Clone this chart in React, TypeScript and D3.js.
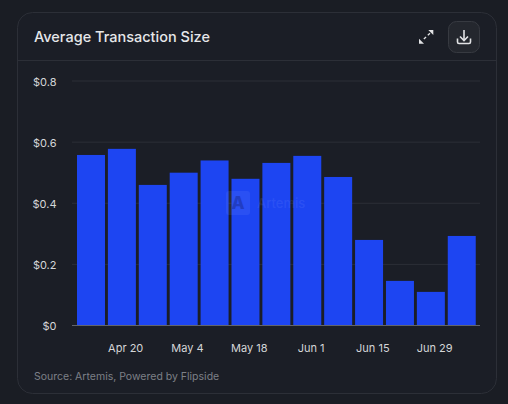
import React from "react";
import * as d3 from "d3";

const weeks = ["Apr 13","Apr 20","Apr 27","May 4","May 11","May 18","May 25","Jun 1","Jun 8","Jun 15","Jun 22","Jun 29","Jul 6"];
const avgSize = [0.558,0.578,0.46,0.5,0.54,0.48,0.532,0.555,0.486,0.28,0.146,0.11,0.293];
const yTicks = [0,0.2,0.4,0.6,0.8];
const yLabels = ["$0","$0.2","$0.4","$0.6","$0.8"];
const xTicks = ["Apr 20","May 4","May 18","Jun 1","Jun 15","Jun 29"];

const FONT = "Inter, 'Noto Sans', sans-serif";

export default function App() {
  const x = d3.scaleBand<string>().domain(weeks).range([75.55, 477.2]).paddingInner(0.094).paddingOuter(0.047);
  const y = d3.scaleLinear().domain([0, 0.8]).range([325.5, 81]);
  return (
    <svg width={508} height={404} style={{ position: "fixed", left: 0, top: 0, display: "block" }}>
      <rect width={508} height={404} fill="#1a1d24" />
      <rect x={17.5} y={12.5} width={479} height={381} rx={15} fill="#1b1e26" stroke="#2c2f37" />
      <line x1={18} x2={496} y1={60.5} y2={60.5} stroke="#2c2f37" />
      <text x={34} y={42} fill="#e6e7e9" fontFamily={FONT} fontSize={14.5} fontWeight={500}>Average Transaction Size</text>

      <g fill="#e2e3e5" stroke="none">
        <path d="M433.3 30 V35 L428.3 30 Z" />
        <path d="M419 43.8 V38.8 L424 43.8 Z" />
      </g>
      <path d="M430 33.3 L422.3 40.5" stroke="#e2e3e5" strokeWidth={1.3} strokeDasharray="3 2.4" fill="none" />
      <rect x={448.5} y={21.5} width={31} height={31} rx={8} fill="#24272e" stroke="#373a41" />
      <g stroke="#e2e3e5" strokeWidth={1.6} fill="none">
        <path d="M464 30 V40" />
        <path d="M460 36.5 L464 40.5 L468 36.5" />
        <path d="M457.5 38.5 V42 Q457.5 43.5 459 43.5 H469 Q470.5 43.5 470.5 42 V38.5" />
      </g>

      {yTicks.map((t, i) => (
        <g key={t}>
          {t > 0 && <line x1={72} x2={480} y1={y(t)} y2={y(t)} stroke="#2c2f37" />}
          <text x={56.5} y={y(t) + 4.7} textAnchor="end" fill="#d5d6d8" fontFamily={FONT} fontSize={11}>{yLabels[i]}</text>
        </g>
      ))}

      {weeks.map((w, i) => (
        <rect key={w} x={x(w)} y={y(avgSize[i])} width={x.bandwidth()} height={y(0) - y(avgSize[i])} fill="#1d45f2" />
      ))}
      <line x1={72} x2={480} y1={325.5} y2={325.5} stroke="#62656c" />

      {xTicks.map((t) => (
        <text key={t} x={(x(t) ?? 0) + x.bandwidth() / 2 + 3.8} y={351.5} textAnchor="middle" fill="#d5d6d8" fontFamily={FONT} fontSize={11}>{t}</text>
      ))}

      <g opacity={0.1}>
        <rect x={226} y={191} width={24} height={24} rx={3} fill="#9fb2ff" />
        <text x={257} y={208} fill="#9fb2ff" fontFamily={FONT} fontSize={13} fontWeight={500}>Artemis</text>
      </g>
      <text x={238} y={209} textAnchor="middle" fill="#1a2f9c" opacity={0.55} fontFamily={FONT} fontSize={17} fontWeight={800}>A</text>

      <text x={34} y={380} fill="#7d8087" fontFamily={FONT} fontSize={10.5}>Source: Artemis, Powered by Flipside</text>
    </svg>
  );
}
